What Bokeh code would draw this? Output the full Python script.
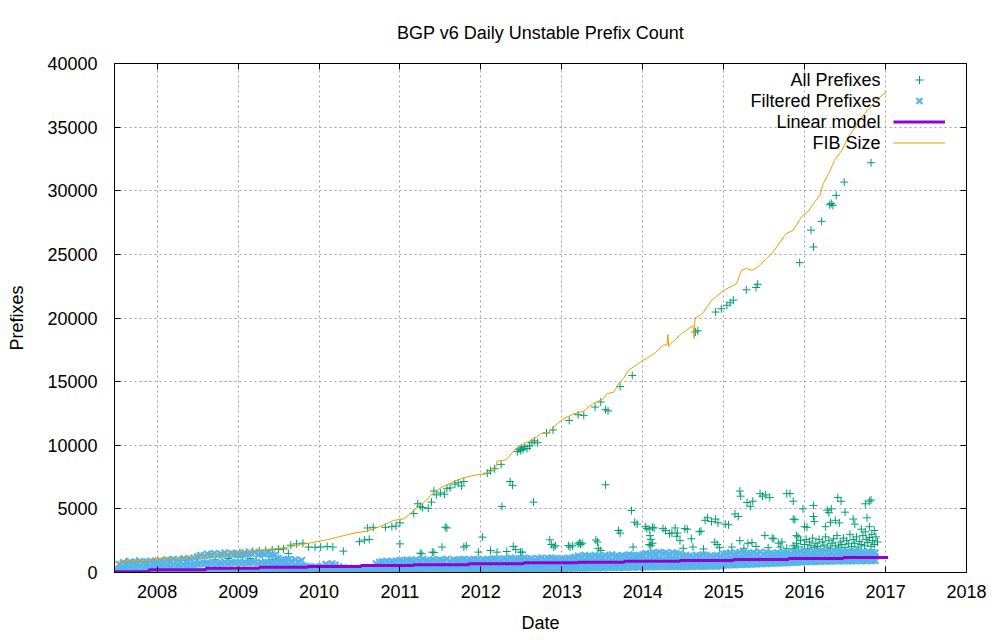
import numpy as np
import pandas as pd
from datetime import datetime
from bokeh.plotting import figure
from bokeh.models import (Range1d, FixedTicker, CustomJSTickFormatter, LinearAxis,
                          DatetimeAxis, Legend, LegendItem, Label)
from bokeh.embed import file_html
from bokeh.resources import INLINE

# ---------------- data ----------------
# Filtered prefixes: semi-monthly samples (1st/15th), three levels of the dense band
filt_start = "2007-06-15"
filt_lo = [0, 10, 20, 10, 20, 30, 20, 30, 20, 30, 40, 30, 40,
           30, 40, 50, 40, 50, 40, 60, 50, 40, 60, 50, 60, 70, 50, 60, 70, 60, 50, 70, 60, 70, 80, 60, 70,
           80, 70, 60, 80, 70, 90, 80, 70, 90, 80, 70, 80, 90, 70, 80, 90, 80, 70, 90, 80, 100, 90, 80, 90,
           100, 90, 80, 100, 90, 110, 100, 90, 100, 110, 90, 100, 110, 100, 90, 110, 100, 120, 110, 100, 120, 110, 130, 120,
           130, 150, 140, 160, 150, 170, 180, 160, 190, 180, 200, 190, 210, 200, 190, 220, 210, 230, 220, 210, 240, 230, 220, 250,
           240, 250, 260, 240, 270, 260, 250, 270, 280, 260, 270, 290, 280, 270, 300, 290, 280, 300, 310, 290, 300, 320, 310, 300,
           320, 330, 310, 340, 330, 350, 340, 330, 360, 350, 370, 360, 350, 380, 370, 390, 380, 370, 400, 390, 410, 400, 420, 410,
           430, 420, 440, 450, 430, 460, 450, 440, 470, 460, 450, 440, 460, 450, 470, 460, 480, 470, 460, 490, 480, 500, 490, 510,
           560, 580, 600, 590, 620, 610, 640, 630, 650, 670, 660, 680, 700, 690, 710, 730, 720, 750, 740, 770, 790, 780, 800, 820,
           840, 860, 850, 870, 880, 860, 890, 900, 880, 910, 900, 920, 910, 930, 900, 920, 940, 910, 930, 950, 920, 940]
filt_mid = [20, 150, 300, 400, 350, 450, 380, 420, 480, 400, 450, 500, 420,
            450, 500, 470, 520, 480, 550, 520, 480, 580, 530, 560, 600, 650, 700, 680, 750, 720, 780, 700, 750, 800, 720, 780, 750,
            780, 720, 800, 750, 780, 820, 720, 780, 750, 800, 720, 700, 580, 530, 500, 550, 480, 530, 450, 500, 300, 270, 250, 270,
            250, 300, 370, 320, 400, 350, 270, 220, 200, 230, 190, 210, 200, 230, 200, 190, 220, 400, 450, 480, 500, 450, 480, 510,
            540, 520, 570, 550, 520, 580, 560, 600, 570, 540, 600, 570, 600, 580, 620, 560, 600, 590, 610, 640, 600, 610, 640, 620,
            600, 620, 650, 620, 680, 650, 620, 680, 660, 700, 680, 670, 690, 710, 670, 700, 640, 700, 730, 670, 700, 730, 700, 680,
            710, 690, 730, 720, 760, 820, 800, 840, 830, 800, 860, 830, 800, 860, 840, 900, 840, 810, 880, 850, 900, 870, 860, 880,
            910, 960, 940, 1000, 960, 1030, 970, 990, 960, 1000, 970, 940, 880, 900, 880, 850, 910, 880, 930, 920, 890, 870, 920, 900,
            1000, 1040, 1070, 1020, 1060, 1100, 1090, 1060, 1050, 1110, 1080, 1140, 1070, 1120, 1100, 1090, 1130, 1120, 1170, 1160, 1140, 1190, 1170, 1230,
            1220, 1250, 1200, 1230, 1290, 1230, 1270, 1220, 1240, 1300, 1270, 1260, 1230, 1290, 1250, 1310, 1290, 1250, 1240, 1300, 1260, 1250]
filt_hi = [40, 300, 650, 780, 700, 850, 720, 800, 880, 760, 820, 900, 780,
           850, 950, 880, 1000, 920, 1050, 980, 900, 1100, 1000, 1050, 1150, 1250, 1350, 1300, 1450, 1400, 1500, 1350, 1450, 1550, 1400, 1500, 1450,
           1500, 1400, 1550, 1450, 1500, 1600, 1400, 1500, 1450, 1550, 1400, 1350, 1100, 1000, 950, 1050, 900, 1000, 850, 950, 500, 450, 400, 450,
           400, 500, 650, 550, 700, 600, 450, 350, 300, 350, 280, 320, 300, 350, 300, 280, 330, 700, 800, 850, 900, 800, 850, 900,
           950, 900, 1000, 950, 900, 1000, 950, 1050, 950, 900, 1000, 950, 1000, 950, 1050, 900, 1000, 950, 1000, 1050, 950, 1000, 1050, 1000,
           950, 1000, 1050, 1000, 1100, 1050, 1000, 1100, 1050, 1150, 1100, 1050, 1100, 1150, 1050, 1100, 1000, 1100, 1150, 1050, 1100, 1150, 1100, 1050,
           1100, 1050, 1150, 1100, 1200, 1300, 1250, 1350, 1300, 1250, 1350, 1300, 1250, 1350, 1300, 1400, 1300, 1250, 1350, 1300, 1400, 1350, 1300, 1350,
           1400, 1500, 1450, 1550, 1500, 1600, 1500, 1550, 1450, 1550, 1500, 1450, 1300, 1350, 1300, 1250, 1350, 1300, 1400, 1350, 1300, 1250, 1350, 1300,
           1450, 1500, 1550, 1450, 1500, 1600, 1550, 1500, 1450, 1550, 1500, 1600, 1450, 1550, 1500, 1450, 1550, 1500, 1600, 1550, 1500, 1600, 1550, 1650,
           1600, 1650, 1550, 1600, 1700, 1600, 1650, 1550, 1600, 1700, 1650, 1600, 1550, 1650, 1600, 1700, 1650, 1600, 1550, 1650, 1600, 1550]

# All prefixes: (decimal year, prefix count)
all_points = [
    (2007.62, 850), (2007.68, 700), (2007.75, 900), (2007.85, 800), (2007.95, 850), (2008.02, 750),
    (2008.10, 900), (2008.30, 950), (2008.38, 1000), (2008.50, 1100), (2008.58, 900), (2008.65, 1200),
    (2008.72, 1000), (2008.80, 1300), (2008.88, 1100), (2009.00, 1200), (2009.05, 950), (2009.12, 1350),
    (2009.15, 1100), (2009.22, 950), (2009.23, 1500), (2009.30, 1300), (2009.38, 1250), (2009.42, 1000),
    (2009.50, 1100), (2009.58, 900), (2009.60, 950), (2009.62, 1500), (2009.68, 950),
    (2008.95, 1500), (2009.02, 1560), (2009.10, 1600), (2009.18, 1650), (2009.26, 1700), (2009.34, 1730),
    (2009.42, 1780), (2009.50, 1820), (2009.56, 1850),
    (2009.65, 2150), (2009.72, 2250), (2009.80, 2300),
    (2009.87, 2000), (2009.95, 1980), (2010.02, 2000), (2010.10, 2050), (2010.17, 2000), (2010.30, 1680),
    (2010.50, 2420), (2010.56, 2550), (2010.62, 2600),
    (2010.60, 3500), (2010.67, 3550), (2010.82, 3550), (2010.90, 3600), (2010.95, 3650), (2011.00, 3900),
    (2011.00, 2250), (2011.17, 4640), (2011.22, 5400), (2011.25, 5200), (2011.28, 5100), (2011.35, 5050),
    (2011.39, 5530), (2011.42, 6400), (2011.45, 6100), (2011.50, 6250), (2011.55, 6150), (2011.58, 6580),
    (2011.62, 6650), (2011.68, 6950), (2011.72, 7050), (2011.76, 6800), (2011.79, 7150),
    (2011.25, 1520), (2011.27, 1470), (2011.40, 1600), (2011.42, 1570), (2011.52, 2000), (2011.56, 3560),
    (2011.58, 3500), (2011.79, 2000), (2011.82, 2100), (2011.97, 1600), (2012.02, 2780), (2012.12, 1730),
    (2012.20, 1600),
    (2012.08, 7800), (2012.12, 8000), (2012.17, 8150), (2012.25, 8500), (2012.26, 5190), (2012.36, 7150),
    (2012.39, 6850), (2012.32, 1650), (2012.40, 2050), (2012.43, 1800), (2012.49, 1600), (2012.51, 1600),
    (2012.45, 9500), (2012.47, 9700), (2012.49, 9600), (2012.50, 9800), (2012.52, 9650), (2012.54, 9900),
    (2012.57, 9750), (2012.60, 9950), (2012.63, 10200), (2012.66, 10350), (2012.70, 10200), (2012.81, 10970),
    (2012.89, 11200),
    (2012.65, 5530), (2012.85, 2570), (2012.87, 2200), (2012.90, 2000), (2012.92, 2100),
    (2013.09, 11950), (2013.20, 12400), (2013.27, 12350), (2013.41, 13000), (2013.48, 13400),
    (2013.54, 12800), (2013.57, 12700), (2013.72, 14620), (2013.87, 15480),
    (2013.54, 6890), (2013.86, 4870), (2013.90, 3950), (2013.93, 3800), (2013.70, 3300), (2013.72, 3100),
    (2013.42, 2550), (2013.44, 2400), (2013.20, 2250), (2013.22, 2350), (2013.23, 2200), (2013.25, 2300),
    (2013.08, 2120), (2013.10, 2000), (2013.13, 2100), (2013.45, 1900), (2013.48, 1730), (2013.88, 2000),
    (2014.03, 3600), (2014.05, 3450), (2014.08, 3400), (2014.12, 3550), (2014.14, 3500), (2014.09, 2900),
    (2014.10, 2600), (2014.08, 2200), (2014.10, 2100), (2014.12, 2300),
    (2014.25, 3450), (2014.28, 3300), (2014.33, 3060), (2014.36, 3100), (2014.40, 3500), (2014.43, 3100),
    (2014.42, 2850), (2014.46, 2500), (2014.52, 3450), (2014.55, 3400), (2014.60, 2650), (2014.70, 3200),
    (2014.72, 3250),
    (2014.77, 4100), (2014.80, 4300), (2014.85, 4000), (2014.90, 4200), (2014.93, 3900), (2014.89, 2380),
    (2014.92, 2200),
    (2014.65, 18900), (2014.68, 19000), (2014.90, 20470), (2014.97, 20730), (2015.04, 21000),
    (2015.08, 21200), (2015.12, 21400), (2015.28, 22220), (2015.40, 22400), (2015.42, 22650),
    (2015.02, 3800), (2015.06, 3750), (2015.14, 4600), (2015.18, 4400), (2015.20, 6400), (2015.21, 6000),
    (2015.29, 5500), (2015.33, 5200), (2015.36, 5600), (2015.45, 6200), (2015.48, 6000), (2015.52, 6100),
    (2015.57, 5900), (2015.78, 6200), (2015.82, 6200), (2015.86, 5600), (2015.86, 4200), (2015.88, 4150),
    (2015.98, 5000), (2016.11, 5270), (2016.11, 4400), (2016.12, 4000), (2016.00, 3600), (2016.03, 3550),
    (2015.20, 2500), (2015.30, 2300), (2015.35, 2350), (2015.51, 2900), (2015.60, 2700), (2015.62, 2650),
    (2015.68, 2300), (2015.72, 2400), (2015.90, 2900), (2015.92, 2800),
    (2015.94, 24350), (2016.08, 26900), (2016.11, 25580), (2016.21, 27600), (2016.31, 28900),
    (2016.33, 29000), (2016.35, 28850), (2016.39, 29640), (2016.49, 30680), (2016.82, 32200),
    (2016.28, 4900), (2016.30, 4700), (2016.33, 5000), (2016.41, 5900), (2016.45, 5600), (2016.26, 3600),
    (2016.32, 3950), (2016.38, 4100), (2016.43, 3900), (2016.50, 4740), (2016.60, 4200), (2016.62, 3800),
    (2016.75, 5400), (2016.80, 5600), (2016.82, 5700), (2016.77, 4300), (2016.70, 3400), (2016.75, 3200),
    (2016.80, 3600), (2016.83, 3000), (2016.86, 3300),
    (2015.86, 2100), (2015.88, 1900), (2015.90, 2300), (2015.92, 2000), (2015.95, 2500), (2015.97, 1800),
    (2016.00, 2200), (2016.02, 2600), (2016.04, 1900), (2016.06, 2400), (2016.08, 2100), (2016.10, 2700),
    (2016.12, 1950), (2016.14, 2300), (2016.16, 2050), (2016.18, 2600), (2016.20, 1850), (2016.22, 2400),
    (2016.24, 2150), (2016.26, 2800), (2016.28, 2000), (2016.30, 2500), (2016.32, 1900), (2016.34, 2300),
    (2016.36, 2650), (2016.38, 2100), (2016.40, 2900), (2016.42, 2000), (2016.44, 2400), (2016.46, 2200),
    (2016.48, 2700), (2016.50, 1950), (2016.52, 2500), (2016.54, 2250), (2016.56, 3000), (2016.58, 2050),
    (2016.60, 2600), (2016.62, 2300), (2016.64, 2800), (2016.66, 2000), (2016.68, 2450), (2016.70, 2200),
    (2016.72, 2900), (2016.74, 2100), (2016.76, 2600), (2016.78, 2350), (2016.80, 2750), (2016.82, 2050),
    (2016.84, 2500), (2016.86, 2200), (2016.88, 2800), (2016.90, 2400),
    (2014.50, 1900), (2014.62, 2000), (2014.75, 1850), (2014.95, 1950), (2015.10, 2000), (2015.25, 1900),
    (2015.40, 2050), (2015.55, 1950), (2015.70, 2000), (2015.78, 1900),
]

# FIB size: (decimal year, table size)
fib_points = [
    (2007.47, 780), (2007.62, 865), (2007.83, 945), (2007.97, 1000), (2007.98, 1200), (2007.99, 1050),
    (2008.06, 1060), (2008.07, 1200), (2008.08, 1070), (2008.25, 1075), (2008.37, 1150), (2008.49, 1200),
    (2008.66, 1340), (2008.78, 1415), (2008.95, 1545), (2009.11, 1650), (2009.28, 1780), (2009.44, 1860),
    (2009.61, 1990), (2009.77, 2175), (2009.94, 2385), (2010.10, 2570), (2010.26, 2830), (2010.43, 3090),
    (2010.59, 3250), (2010.76, 3620), (2010.92, 4090), (2011.05, 4220), (2011.17, 4870), (2011.30, 5530),
    (2011.42, 6310), (2011.52, 6710), (2011.65, 7100), (2011.79, 7440), (2011.96, 7700), (2012.04, 7700),
    (2012.12, 7960), (2012.18, 8100), (2012.20, 8750), (2012.31, 8850), (2012.41, 9590), (2012.53, 10110),
    (2012.66, 10510), (2012.74, 10900), (2012.84, 11030), (2012.94, 11690), (2013.02, 12080),
    (2013.15, 12480), (2013.27, 12680), (2013.39, 13310), (2013.50, 13580), (2013.56, 14050),
    (2013.64, 14170), (2013.70, 14830), (2013.76, 15230), (2013.82, 15880), (2013.97, 16530),
    (2014.15, 17240), (2014.25, 17850), (2014.30, 17900), (2014.31, 18700), (2014.32, 17750),
    (2014.33, 17900), (2014.48, 18760), (2014.62, 19400), (2014.635, 18370), (2014.645, 20000),
    (2014.73, 20280), (2014.85, 21380), (2015.00, 22170), (2015.16, 22700), (2015.22, 23740),
    (2015.28, 23900), (2015.35, 23740), (2015.43, 24060), (2015.53, 24660), (2015.61, 25180),
    (2015.67, 25710), (2015.77, 26620), (2015.86, 26890), (2015.94, 27730), (2015.98, 28070),
    (2016.04, 28330), (2016.11, 28990), (2016.19, 29640), (2016.23, 30560), (2016.31, 31500),
    (2016.37, 32390), (2016.46, 33180), (2016.54, 34220), (2016.64, 35140), (2016.74, 36060),
    (2016.85, 36850), (2016.93, 37370), (2017.01, 37760),
]

# Linear model: step start (decimal year) and level
model_year = [2007.47, 2007.90, 2008.60, 2009.26, 2009.86, 2010.52, 2011.17, 2011.85, 2012.53,
              2013.20, 2013.77, 2014.46, 2015.12, 2015.80, 2016.48, 2017.03]
model_value = [50, 210, 335, 415, 470, 545, 600, 680, 760, 810, 890, 950, 1020, 1100, 1180, 1180]

tick_years = list(range(2008, 2019))
y_ticks = list(range(0, 40001, 5000))
legend_labels = ["All Prefixes", "Filtered Prefixes", "Linear model", "FIB Size"]


def to_dt(d):
    y = int(np.floor(d))
    a, b = datetime(y, 1, 1), datetime(y + 1, 1, 1)
    return a + (b - a) * (d - y)


FONT = "Liberation Sans"
GREEN, BLUE, PURPLE, ORANGE = "#009e73", "#56b4e9", "#9400d3", "#e69f00"

filt_x = (list(pd.date_range(filt_start, periods=len(filt_lo), freq="SMS")) +
          list(pd.date_range(filt_start, periods=len(filt_mid), freq="SMS")) +
          list(pd.date_range(filt_start, periods=len(filt_hi), freq="SMS")))
filt_y = filt_lo + filt_mid + filt_hi

p = figure(width=1000, height=640, x_axis_type="datetime", output_backend="svg",
           toolbar_location=None,
           x_range=Range1d(to_dt(2007.473), to_dt(2018.0)), y_range=Range1d(0, 40000),
           min_border_left=114, min_border_right=34, min_border_top=63, min_border_bottom=68)
p.background_fill_color = "white"
p.border_fill_color = "white"
p.outline_line_color = "black"
p.outline_line_width = 1

r_all = p.scatter([to_dt(a) for a, _ in all_points], [v for _, v in all_points],
                  marker="cross", size=8, line_color=GREEN, line_width=1)
r_filt = p.scatter(filt_x, filt_y, marker="x", size=9, line_color=BLUE, line_width=2.2)
r_model = p.step([to_dt(a) for a in model_year], model_value, mode="after",
                 line_color=PURPLE, line_width=3)
r_fib = p.line([to_dt(a) for a, _ in fib_points], [v for _, v in fib_points],
               line_color=ORANGE, line_width=1)

xt = FixedTicker(ticks=[to_dt(y).timestamp() * 1000 for y in tick_years])
yt = FixedTicker(ticks=y_ticks)
year_fmt = CustomJSTickFormatter(code="return String(new Date(tick).getUTCFullYear());")
blank_fmt = CustomJSTickFormatter(code="return '';")

xa = p.xaxis[0]
xa.ticker = xt
xa.formatter = year_fmt
ya = p.yaxis[0]
ya.ticker = yt

for ax in (xa, ya):
    ax.major_tick_in = 6
    ax.major_tick_out = 0
    ax.minor_tick_line_color = None
    ax.axis_line_color = "black"
    ax.major_label_text_font = FONT
    ax.major_label_text_font_size = "18px"
    ax.major_label_text_color = "black"
    ax.axis_label_text_font = FONT
    ax.axis_label_text_font_size = "18px"
    ax.axis_label_text_font_style = "normal"
    ax.axis_label_text_color = "black"

xa.axis_label = "Date"
xa.major_label_standoff = 12
xa.axis_label_standoff = 12
ya.axis_label = "Prefixes"
ya.major_label_standoff = 17
ya.axis_label_standoff = 17

top = DatetimeAxis(ticker=xt, formatter=blank_fmt, major_tick_in=6, major_tick_out=0,
                   minor_tick_line_color=None, axis_line_color=None, major_label_standoff=0)
right = LinearAxis(ticker=yt, formatter=blank_fmt, major_tick_in=6, major_tick_out=0,
                   minor_tick_line_color=None, axis_line_color=None, major_label_standoff=0)
p.add_layout(top, "above")
p.add_layout(right, "right")

p.xgrid.ticker = xt
p.ygrid.ticker = yt
for g in (p.xgrid, p.ygrid):
    g.grid_line_color = "#a0a0a0"
    g.grid_line_dash = "2 3"
    g.grid_line_width = 1

p.title.text = "BGP v6 Daily Unstable Prefix Count"
p.title.align = "center"
p.title.text_font = FONT
p.title.text_font_size = "18px"
p.title.text_font_style = "normal"
p.title.text_color = "black"
p.title.standoff = 41

# gnuplot-style key: text right-aligned, sample to its right
legend = Legend(items=[LegendItem(label=" ", renderers=[r]) for r in (r_all, r_filt, r_model, r_fib)],
                location=(779, 419.5), glyph_width=52, glyph_height=21, label_height=21,
                spacing=0, padding=0, margin=0, label_standoff=0, label_width=1,
                label_text_font_size="1px", background_fill_alpha=0, border_line_color=None)
p.add_layout(legend, "center")
for i, txt in enumerate(legend_labels):
    p.add_layout(Label(x=766, y=493 - 21.3 * i, x_units="screen", y_units="screen", text=txt,
                       text_align="right", text_baseline="middle", text_font=FONT,
                       text_font_size="18px", text_color="black"))

open("out.html", "w").write(file_html(p, INLINE))
